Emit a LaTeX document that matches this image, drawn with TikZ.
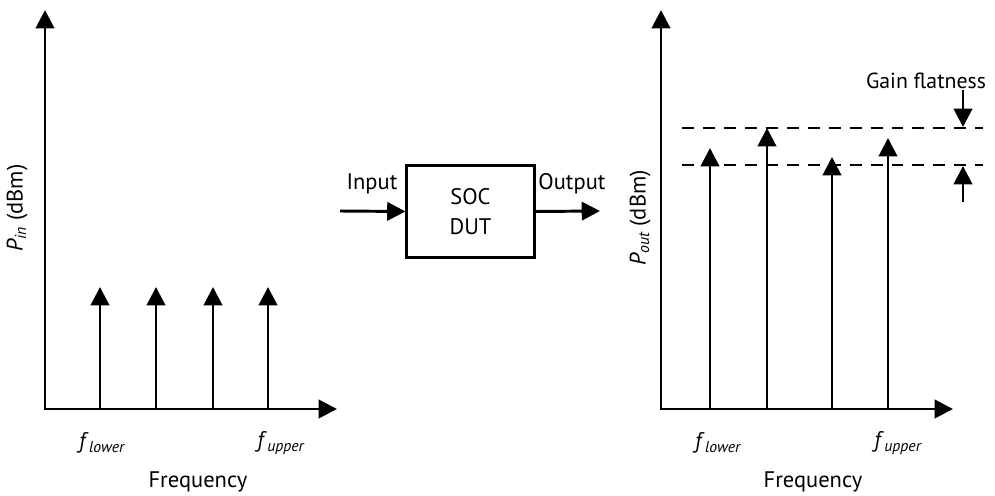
\documentclass[tikz,border=0pt]{standalone}
\usepackage{fontspec}
\setmainfont{PT Sans}
\usetikzlibrary{arrows.meta}
\begin{document}
\begin{tikzpicture}[x = 0.025cm, y = 0.025cm, line width = 2.1pt,
        >={Triangle[length=13pt, width=13pt]},
        txt/.style={font=\fontsize{16}{18}\selectfont, inner sep=0pt},
        flat/.style={dash pattern=on 8.5pt off 6.4pt, line width=2pt},
        dut/.style={rectangle, draw, line width=2pt, minimum width=3.18cm, minimum height=2.28cm, align=center, font=\fontsize{16}{21}\selectfont}]

        \useasboundingbox (0, 0) rectangle (995, 495);

        % input spectrum
        \coordinate (o1) at (45, 86);
        \coordinate (ytip1) at (45, 485);
        \coordinate (xtip1) at (337, 86);
        \draw[<->] (ytip1) -- (o1) -- (xtip1);

        \coordinate (lb1) at (100, 86);
        \coordinate (lb2) at (156, 86);
        \coordinate (lb3) at (213, 86);
        \coordinate (lb4) at (268, 86);
        \coordinate (lt1) at (100, 208);
        \coordinate (lt2) at (156, 208);
        \coordinate (lt3) at (213, 208);
        \coordinate (lt4) at (268, 208);

        \draw[->] (lb1) -- (lt1);
        \draw[->] (lb2) -- (lt2);
        \draw[->] (lb3) -- (lt3);
        \draw[->] (lb4) -- (lt4);

        \node[txt] at (102, 52) (flow1) {\textit{f\,\textsubscript{lower}}};
        \node[txt] at (281, 52) (fup1) {\textit{f\,\textsubscript{upper}}};
        \node[txt] at (198, 13) (freq1) {Frequency};
        \node[txt, rotate=90] at (17, 287) (pin) {\textit{P\textsubscript{in}} (dBm)};

        % device
        \node[dut] at (470.5, 283.5) (soc) {SOC\\DUT};
        \coordinate (in) at (340, 284);
        \coordinate (out) at (600, 284);
        \draw[->] (in) -- (soc.west);
        \draw[->] (soc.east) -- (out);
        \node[txt] at (372, 311) (inlabel) {Input};
        \node[txt] at (572, 311) (outlabel) {Output};

        % output spectrum
        \coordinate (o2) at (661, 86);
        \coordinate (ytip2) at (661, 485);
        \coordinate (xtip2) at (953, 86);
        \draw[<->] (ytip2) -- (o2) -- (xtip2);

        \coordinate (rb1) at (710, 86);
        \coordinate (rb2) at (767, 86);
        \coordinate (rb3) at (832, 86);
        \coordinate (rb4) at (888, 86);
        \coordinate (rt1) at (710, 347);
        \coordinate (rt2) at (767, 367);
        \coordinate (rt3) at (832, 338);
        \coordinate (rt4) at (888, 357);

        \draw[->] (rb1) -- (rt1);
        \draw[->] (rb2) -- (rt2);
        \draw[->] (rb3) -- (rt3);
        \draw[->] (rb4) -- (rt4);

        \coordinate (hi1) at (682, 367);
        \coordinate (hi2) at (983, 367);
        \coordinate (lo1) at (682, 330);
        \coordinate (lo2) at (983, 330);
        \draw[flat] (hi1) -- (hi2);
        \draw[flat] (lo1) -- (lo2);

        \coordinate (g1) at (963, 405);
        \coordinate (g2) at (963, 368);
        \coordinate (g3) at (963, 293);
        \coordinate (g4) at (963, 329);
        \draw[->] (g1) -- (g2);
        \draw[->] (g3) -- (g4);

        \node[txt, font=\fontsize{15.5}{18}\selectfont] at (926, 414) (gain) {Gain flatness};
        \node[txt] at (718, 52) (flow2) {\textit{f\,\textsubscript{lower}}};
        \node[txt] at (898, 52) (fup2) {\textit{f\,\textsubscript{upper}}};
        \node[txt] at (813, 13) (freq2) {Frequency};
        \node[txt, rotate=90] at (640, 277) (pout) {\textit{P\textsubscript{out}} (dBm)};
\end{tikzpicture}
\end{document}
